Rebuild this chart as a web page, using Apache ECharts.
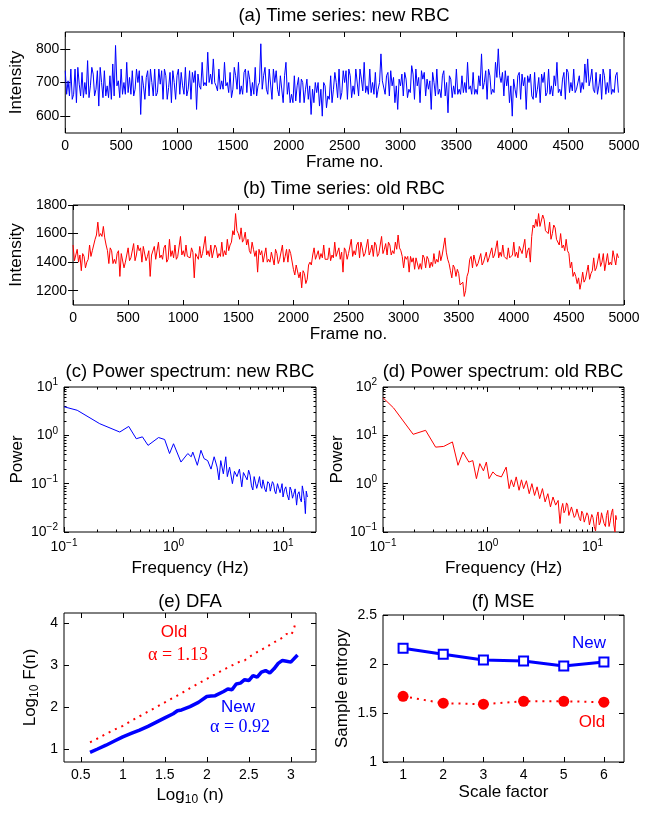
<!DOCTYPE html>
<html>
<head>
<meta charset="utf-8">
<script src="https://cdn.jsdelivr.net/npm/echarts@6/dist/echarts.min.js"></script>
<style>
  html, body { margin: 0; padding: 0; background: #fff; }
  #chart { width: 646px; height: 814px; }
</style>
</head>
<body>
<div id="chart"></div>
<script>
// sampling step of the time series (frames)
var frameStep = 25;

// (a) new RBC intensity, one value every 25 frames
var newRBC = [
  735,705,740,665,640,695,730,700,765,690,725,680,630,700,735,690,720,755,810,705,
  740,700,760,715,735,680,700,605,690,715,660,700,740,670,695,650,720,685,640,700,
  720,665,690,745,680,650,700,620,690,760,700,790,725,770,690,740,705,760,700,730,
  680,720,760,690,730,670,710,700,745,690,815,720,680,740,650,700,680,720,640,760,
  700,665,720,690,640,700,680,650,605,640,670,630,600,690,660,720,680,700,740,670,
  700,650,720,690,740,660,710,760,690,740,700,730,680,785,700,720,660,690,640,620,
  690,660,710,680,750,650,690,640,710,660,680,620,700,740,680,720,660,610,710,690,
  740,680,720,700,760,690,730,680,720,785,700,650,720,680,760,800,700,660,690,640,
  600,680,720,650,690,620,700,660,730,680,640,700,660,740,690,720,760,680,710,650,
  730,700,740,680,720,700,755,770,710,680,730,690,650,720,700,740,680,720,670
];
// (a) values read half way between the samples above
var newRBCMid = [
  665,660,650,740,745,660,655,665,655,745,660,735,745,655,660,655,650,660,690,655,
  665,665,670,665,660,740,735,720,650,735,740,660,660,740,735,740,650,730,735,650,
  740,730,665,660,735,730,735,725,680,690,690,700,695,700,675,680,680,690,670,655,
  745,680,665,665,740,735,660,665,660,700,680,745,665,735,740,735,660,725,720,665,
  640,640,645,715,710,640,710,690,680,700,700,680,700,625,650,640,730,655,650,735,
  735,740,655,665,735,740,675,670,665,670,665,655,700,705,665,730,735,715,690,710,
  725,730,655,670,725,740,715,735,730,710,705,730,660,665,655,735,700,720,655,665,
  665,665,670,670,680,665,665,665,690,680,735,740,665,670,715,720,730,735,720,690,
  710,655,730,725,715,720,725,650,655,715,725,730,670,665,660,690,670,660,730,740,
  670,675,670,675,670,680,700,690,740,670,665,725,740,665,670,665,670,730
];

// (b) old RBC intensity, one value every 25 frames
var oldRBC = [
  1520,1450,1400,1340,1440,1400,1520,1480,1560,1680,1600,1650,1520,1390,1480,1420,1460,1300,1450,1400,
  1500,1430,1530,1450,1480,1400,1500,1440,1300,1460,1420,1540,1450,1500,1400,1560,1480,1520,1440,1580,
  1480,1520,1450,1500,1290,1440,1510,1460,1580,1480,1520,1440,1500,1460,1540,1480,1560,1520,1620,1740,
  1600,1640,1560,1520,1480,1540,1440,1330,1450,1400,1500,1420,1470,1380,1460,1420,1520,1440,1400,1460,
  1350,1380,1290,1220,1320,1280,1400,1450,1420,1480,1460,1520,1430,1500,1450,1540,1470,1420,1330,1480,
  1460,1560,1480,1520,1430,1500,1460,1560,1480,1440,1520,1460,1580,1490,1450,1520,1480,1540,1590,1480,
  1360,1420,1330,1400,1350,1440,1390,1450,1360,1420,1400,1460,1420,1480,1450,1570,1420,1340,1380,1300,
  1320,1230,1160,1300,1420,1360,1440,1390,1460,1400,1470,1430,1500,1450,1550,1470,1520,1450,1500,1440,
  1540,1470,1510,1460,1560,1480,1400,1660,1700,1740,1660,1700,1630,1680,1600,1640,1560,1600,1520,1560,
  1460,1400,1330,1250,1210,1330,1280,1380,1320,1430,1360,1460,1400,1340,1460,1400,1480,1380,1430
];
// (b) values read half way between the samples above
var oldRBCMid = [
  1410,1490,1450,1460,1360,1420,1440,1470,1590,1580,1580,1570,1480,1500,1390,1390,1480,1460,1360,1390,
  1410,1420,1410,1520,1500,1510,1410,1480,1450,1510,1430,1430,1420,1520,1420,1440,1430,1420,1440,1450,
  1440,1440,1430,1470,1460,1420,1430,1450,1450,1440,1430,1520,1430,1440,1440,1450,1480,1540,1590,1620,
  1560,1540,1610,1560,1460,1490,1480,1490,1480,1410,1400,1400,1480,1490,1390,1410,1400,1490,1490,1460,
  1310,1390,1330,1340,1250,1380,1380,1500,1410,1420,1430,1420,1420,1410,1430,1440,1500,1470,1500,1420,
  1450,1440,1450,1540,1540,1440,1450,1450,1520,1540,1440,1450,1460,1530,1540,1450,1460,1490,1500,1440,
  1440,1440,1440,1430,1430,1350,1350,1430,1440,1360,1370,1390,1400,1410,1460,1470,1390,1290,1360,1350,
  1240,1260,1200,1330,1440,1450,1370,1380,1380,1390,1400,1420,1430,1440,1430,1440,1440,1420,1430,1450,
  1440,1430,1520,1450,1430,1500,1580,1640,1650,1650,1730,1620,1600,1560,1660,1560,1520,1500,1480,1480,
  1360,1300,1300,1290,1260,1260,1290,1280,1340,1340,1370,1370,1460,1350,1380,1380,1470,1460
];

// (c) power spectrum, new RBC
var specNewF = [0.1,0.132,0.212,0.323,0.39,0.457,0.52,0.585,0.73,0.83,0.92,1.0,1.17,1.35,1.45,1.5,1.65,1.78,1.9,2.05,
  2.2,2.35,2.5,2.6,2.7,2.85,3.0,3.1,3.25,3.45,3.6,3.8,4.0,4.2,4.35,4.5,4.7,4.85,5.0,5.15,5.3,5.45,5.6,5.75,5.9,
  6.1,6.25,6.4,6.55,6.7,6.85,7.0,7.25,7.5,7.65,7.8,8.0,8.2,8.4,8.6,8.9,9.2,9.4,9.6,9.8,10.0,10.3,10.6,10.9,11.3,11.6,11.9,12.2,
  12.5,12.9,13.3,13.6,14.0,14.3,14.7,15.0,15.4,15.7,16.0,16.3,16.7];
var specNewP = [3.9,3.3,1.74,1.17,1.53,0.85,0.93,0.62,0.9,0.82,0.42,0.67,0.28,0.42,0.36,0.45,0.24,0.49,0.33,0.3,
  0.2,0.36,0.22,0.12,0.3,0.16,0.36,0.14,0.22,0.1,0.18,0.14,0.2,0.086,0.17,0.16,0.12,0.19,0.15,0.09,0.074,0.14,0.13,0.08,0.1,
  0.14,0.09,0.08,0.12,0.11,0.075,0.068,0.11,0.1,0.07,0.086,0.11,0.1,0.07,0.062,0.1,0.092,0.065,0.08,0.1,0.053,0.075,0.086,0.06,0.046,0.085,0.073,0.05,
  0.06,0.078,0.036,0.06,0.068,0.05,0.042,0.09,0.064,0.045,0.024,0.07,0.053];

// (d) power spectrum, old RBC
var specOldF = [0.1,0.126,0.194,0.255,0.318,0.38,0.46,0.52,0.58,0.66,0.72,0.78,0.84,0.91,0.97,1.03,1.12,1.2,1.35,1.5,
  1.6,1.68,1.77,1.87,1.99,2.1,2.2,2.34,2.49,2.64,2.8,2.96,3.13,3.33,3.53,3.75,3.97,4.2,4.45,4.7,
  4.9,5.05,5.2,5.35,5.5,5.65,5.8,5.95,6.1,6.3,6.5,6.7,6.9,7.1,7.3,7.5,7.7,7.9,8.1,8.35,8.6,8.85,9.1,9.35,9.6,9.85,10.1,10.4,10.7,11.0,
  11.3,11.6,11.9,12.2,12.6,12.9,13.3,13.6,14.0,14.4,14.8,15.2,15.6,16.0,16.4,16.7,17.0];
var specOldP = [60,37,10.5,12.7,5.7,5.9,7.3,2.4,4.5,2.8,3.0,1.27,2.6,1.84,2.8,1.27,1.75,1.5,1.38,2.2,
  0.79,1.2,0.86,1.38,0.73,1.2,0.79,1.15,0.62,1.0,0.57,0.86,0.49,0.79,0.42,0.62,0.33,0.53,0.36,0.45,
  0.15,0.3,0.39,0.25,0.28,0.4,0.36,0.22,0.21,0.33,0.31,0.2,0.22,0.3,0.28,0.19,0.17,0.27,0.24,0.16,0.17,0.25,0.22,0.14,0.15,0.23,0.2,0.13,0.105,0.21,
  0.26,0.14,0.16,0.25,0.24,0.15,0.13,0.22,0.28,0.13,0.17,0.25,0.3,0.14,0.1,0.22,0.18];

// (e) DFA
var dfaNewX = [0.61,0.7,0.8,0.9,1.0,1.1,1.2,1.3,1.4,1.5,1.6,1.65,1.7,1.8,1.9,2.0,2.05,2.1,2.2,2.25,2.3,2.35,2.4,2.45,2.5,2.55,2.6,2.65,2.7,2.75,2.8,2.85,2.9,2.95,3.0,3.08];
var dfaNewY = [0.93,1.01,1.1,1.2,1.3,1.38,1.46,1.55,1.65,1.75,1.85,1.92,1.94,2.02,2.12,2.26,2.27,2.28,2.38,2.44,2.42,2.56,2.58,2.66,2.64,2.76,2.72,2.84,2.88,2.82,2.92,3.05,3.12,3.1,3.08,3.25];
var dfaOldX = [0.61,0.7,0.8,0.9,1.0,1.1,1.2,1.3,1.4,1.5,1.6,1.7,1.8,1.9,2.0,2.1,2.2,2.3,2.4,2.45,2.5,2.6,2.7,2.8,2.9,2.95,3.0,3.03,3.06];
var dfaOldY = [1.17,1.26,1.37,1.47,1.56,1.68,1.79,1.9,2.01,2.12,2.23,2.34,2.46,2.57,2.68,2.79,2.9,3.0,3.1,3.12,3.2,3.32,3.43,3.55,3.66,3.75,3.72,3.82,4.05];

// (f) MSE
var scales = ['1','2','3','4','5','6'];
var mseNew = [2.16,2.10,2.04,2.03,1.98,2.02];
var mseOld = [1.67,1.60,1.59,1.62,1.62,1.61];

var FONT = '"Liberation Sans", Arial, sans-serif';
var BLUE = '#0000ff', RED = '#ff0000';

function pairs(xs, ys) { return xs.map(function (x, i) { return [x, ys[i]]; }); }
// sample values plus the half-way readings, in frame order
function series(arr, mid) {
  var out = [];
  arr.forEach(function (v, i) {
    out.push([i * frameStep, v]);
    if (i < mid.length) out.push([i * frameStep + frameStep / 2, mid[i]]);
  });
  return out;
}

function plain(v) { return String(v); }
function logFmt(v) {
  var e = Math.round(Math.log10(v));
  return '{b|10}{s|' + (e < 0 ? '\u2212' + (-e) : e) + '}';
}
var logRich = {
  b: { fontSize: 14, fontFamily: FONT, color: '#000' },
  s: { fontSize: 10, fontFamily: FONT, color: '#000', padding: [0, 0, 9, 0] }
};
function minorLog(min, max) {
  var out = [];
  for (var d = Math.floor(Math.log10(min)); d <= Math.ceil(Math.log10(max)); d++) {
    for (var k = 2; k <= 9; k++) {
      var v = k * Math.pow(10, d);
      if (v > min && v < max) out.push(v);
    }
  }
  return out;
}

var grids = [], xAxes = [], yAxes = [];

// one matlab-like boxed axes: ticks inside on all four sides
function addBox(rect, xo, yo) {
  var gi = grids.length;
  grids.push({ left: rect[0], top: rect[1], width: rect[2], height: rect[3],
    show: true, borderColor: '#000', borderWidth: 1, containLabel: false });
  function mk(o, pos, main, minor) {
    var a = {
      gridIndex: gi, type: o.type, position: pos,
      min: o.min, max: o.max, data: o.data, boundaryGap: o.type === 'category',
      axisLine: { show: false },
      splitLine: { show: false },
      axisTick: { show: true, inside: true, length: minor ? 2.5 : 5,
        lineStyle: { color: '#000', width: 1 }, alignWithLabel: true },
      axisLabel: { show: main && !minor, fontSize: 14, fontFamily: FONT, color: '#000',
        margin: o.labelMargin || 6, formatter: o.fmt || (o.type === 'value' ? plain : null), rich: o.rich }
    };
    if (o.ticks && !minor) {
      a.axisTick.customValues = o.ticks;
      a.axisLabel.customValues = o.ticks;
    }
    if (minor) {
      a.axisTick.customValues = o.minor;
      a.axisLabel.customValues = o.minor;
    }
    if (main && !minor && o.name) {
      a.name = o.name; a.nameLocation = 'middle'; a.nameGap = o.nameGap;
      a.nameTextStyle = { fontSize: 17, fontFamily: FONT, color: '#000', rich: o.nameRich };
    }
    return a;
  }
  var xi = xAxes.length, yi = yAxes.length;
  xAxes.push(mk(xo, 'bottom', true, false), mk(xo, 'top', false, false));
  yAxes.push(mk(yo, 'left', true, false), mk(yo, 'right', false, false));
  if (xo.minor) xAxes.push(mk(xo, 'bottom', true, true), mk(xo, 'top', false, true));
  if (yo.minor) yAxes.push(mk(yo, 'left', true, true), mk(yo, 'right', false, true));
  return { x: xi, y: yi };
}

var frameTicks = [0,500,1000,1500,2000,2500,3000,3500,4000,4500,5000];
var subRich = { n: { fontSize: 17, fontFamily: FONT }, sub: { fontSize: 12, fontFamily: FONT, padding: [10, 0, 0, 0] } };

var A = addBox([64, 32, 560, 101],
  { type: 'value', min: 0, max: 5000, ticks: frameTicks, name: 'Frame no.', nameGap: 20 },
  { type: 'value', min: 550, max: 850, ticks: [600,700,800], name: 'Intensity', nameGap: 33 });
var B = addBox([64, 205, 560, 100],
  { type: 'value', min: 0, max: 5000, ticks: frameTicks, name: 'Frame no.', nameGap: 20 },
  { type: 'value', min: 1100, max: 1800, ticks: [1200,1400,1600,1800], name: 'Intensity', nameGap: 39 });
var C = addBox([64, 387, 252, 145],
  { type: 'log', min: 0.1, max: 20, ticks: [0.1,1,10], minor: minorLog(0.1, 20), fmt: logFmt, rich: logRich,
    name: 'Frequency (Hz)', nameGap: 28 },
  { type: 'log', min: 0.01, max: 10, ticks: [0.01,0.1,1,10], minor: minorLog(0.01, 10), fmt: logFmt, rich: logRich,
    name: 'Power', nameGap: 38 });
var D = addBox([383, 387, 241, 145],
  { type: 'log', min: 0.1, max: 20, ticks: [0.1,1,10], minor: minorLog(0.1, 20), fmt: logFmt, rich: logRich,
    name: 'Frequency (Hz)', nameGap: 28 },
  { type: 'log', min: 0.1, max: 100, ticks: [0.1,1,10,100], minor: minorLog(0.1, 100), fmt: logFmt, rich: logRich,
    name: 'Power', nameGap: 36 });
var E = addBox([64, 613, 252, 149],
  { type: 'value', min: 0.3, max: 3.3, ticks: [0.5,1,1.5,2,2.5,3], name: '{n|Log}{sub|10}{n| (n)}', nameGap: 22, nameRich: subRich },
  { type: 'value', min: 0.7, max: 4.25, ticks: [1,2,3,4], name: '{n|Log}{sub|10}{n| F(n)}', nameGap: 23, nameRich: subRich });
var F = addBox([383, 615, 241, 147],
  { type: 'category', data: scales, name: 'Scale factor', nameGap: 22 },
  { type: 'value', min: 1, max: 2.5, ticks: [1,1.5,2,2.5], name: 'Sample entropy', nameGap: 32 });

var seriesList = [
  { type: 'line', xAxisIndex: A.x, yAxisIndex: A.y, data: series(newRBC, newRBCMid), showSymbol: false,
    lineStyle: { color: BLUE, width: 1 }, itemStyle: { color: BLUE } },
  { type: 'line', xAxisIndex: B.x, yAxisIndex: B.y, data: series(oldRBC, oldRBCMid), showSymbol: false,
    lineStyle: { color: RED, width: 1 }, itemStyle: { color: RED } },
  { type: 'line', xAxisIndex: C.x, yAxisIndex: C.y, data: pairs(specNewF, specNewP), showSymbol: false,
    lineStyle: { color: BLUE, width: 1 } },
  { type: 'line', xAxisIndex: D.x, yAxisIndex: D.y, data: pairs(specOldF, specOldP), showSymbol: false,
    lineStyle: { color: RED, width: 1 } },
  { type: 'line', xAxisIndex: E.x, yAxisIndex: E.y, data: pairs(dfaOldX, dfaOldY), showSymbol: false,
    lineStyle: { color: RED, width: 2, type: [2, 5] } },
  { type: 'line', xAxisIndex: E.x, yAxisIndex: E.y, data: pairs(dfaNewX, dfaNewY), showSymbol: false,
    lineStyle: { color: BLUE, width: 3.5 } },
  { type: 'line', xAxisIndex: F.x, yAxisIndex: F.y, data: mseOld, symbol: 'circle', symbolSize: 11,
    lineStyle: { color: RED, width: 2, type: [2, 5] }, itemStyle: { color: RED } },
  { type: 'line', xAxisIndex: F.x, yAxisIndex: F.y, data: mseNew, symbol: 'rect', symbolSize: 9,
    lineStyle: { color: BLUE, width: 3 }, itemStyle: { color: '#fff', borderColor: BLUE, borderWidth: 2 } }
];

function label(x, y, text, opt) {
  opt = opt || {};
  return { type: 'text', x: x, y: y, z: 100, style: {
    text: text, fill: opt.color || '#000', font: (opt.size || 17) + 'px ' + (opt.family || FONT),
    textAlign: 'center', textVerticalAlign: 'middle' } };
}

var T = { size: 18.5 };
var graphics = [
  label(344, 16, '(a) Time series: new RBC', T),
  label(344, 189, '(b) Time series: old RBC', T),
  label(190, 372, '(c) Power spectrum: new RBC', T),
  label(503, 372, '(d) Power spectrum: old RBC', T),
  label(190, 602, '(e) DFA', T),
  label(503, 602, '(f) MSE', T),
  label(174, 632, 'Old', { color: RED }),
  label(178, 655, '\u03b1 = 1.13', { color: RED, family: '"Liberation Serif", serif', size: 18 }),
  label(238, 707, 'New', { color: BLUE }),
  label(240, 727, '\u03b1 = 0.92', { color: BLUE, family: '"Liberation Serif", serif', size: 18 }),
  label(589, 643, 'New', { color: BLUE }),
  label(592, 722, 'Old', { color: RED })
];

var myChart = echarts.init(document.getElementById('chart'), null, { renderer: 'canvas' });
myChart.setOption({
  animation: false,
  backgroundColor: '#fff',
  grid: grids,
  xAxis: xAxes,
  yAxis: yAxes,
  series: seriesList,
  graphic: graphics
});
</script>
</body>
</html>
